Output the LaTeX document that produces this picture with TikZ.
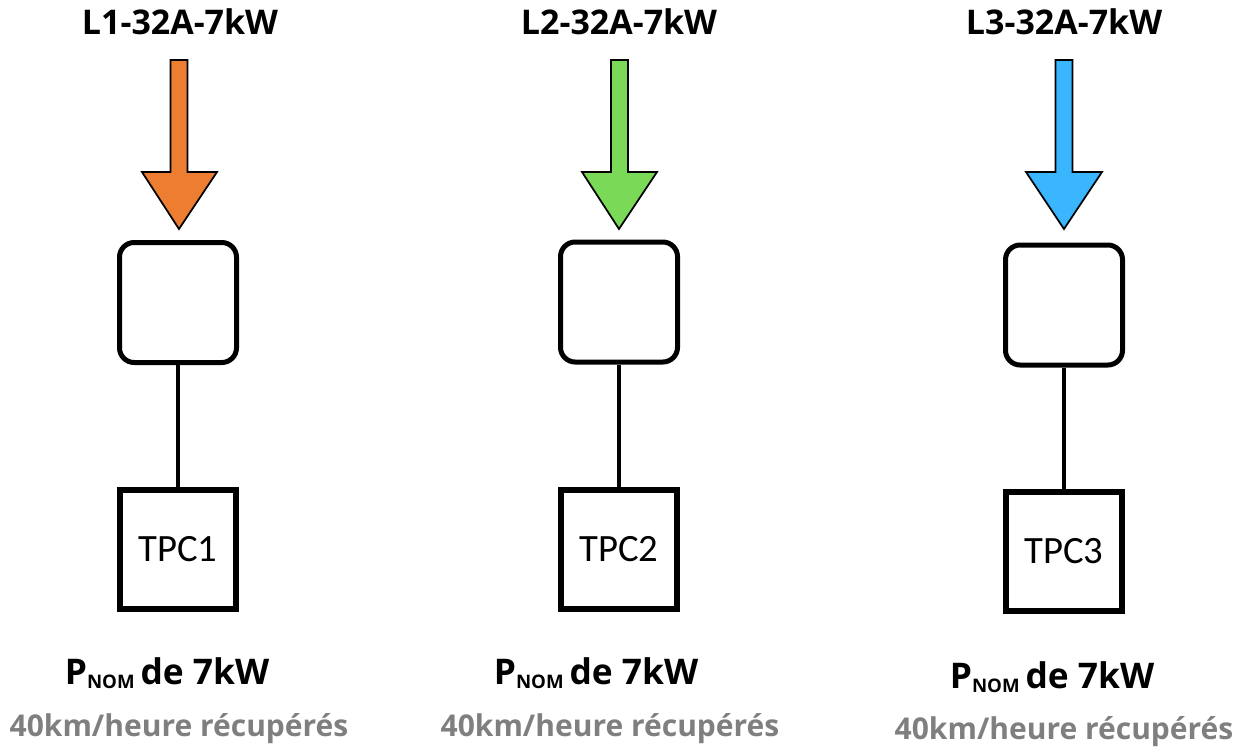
\documentclass[tikz,border=0pt]{standalone}
\usepackage{fontspec}
\setmainfont{Open Sans}
\newfontfamily\calfont{Carlito}
\definecolor{arrOrange}{HTML}{ED7D31}
\definecolor{arrGreen}{HTML}{7AD957}
\definecolor{arrBlue}{HTML}{3AB6FF}
\definecolor{txtGray}{HTML}{7F7F7F}
\newcommand{\pnom}{P{\raisebox{-0.12em}{\fontsize{14}{15}\selectfont NOM}}\,de 7kW}
\begin{document}
\begin{tikzpicture}[x=0.75pt,y=-0.75pt,
  title/.style={font=\bfseries\fontsize{25.5}{30}\selectfont, inner sep=0pt},
  ctrlbox/.style={draw=black, line width=3.75pt, rounded corners=11pt, fill=white,
    minimum width=87.75pt, minimum height=90pt, inner sep=0pt},
  tpcbox/.style={draw=black, line width=4.5pt, fill=white,
    minimum width=87pt, minimum height=89.25pt, inner sep=0pt,
    font=\calfont\fontsize{29}{34}\selectfont},
  link/.style={line width=3pt},
  pnomtxt/.style={font=\bfseries\fontsize{26.5}{31}\selectfont, inner sep=0pt},
  kmtxt/.style={font=\bfseries\fontsize{22.5}{27}\selectfont, text=txtGray, inner sep=0pt},
  blockarrow/.style={draw=black, line width=1.3pt, line join=miter}
]
\useasboundingbox (0,0) rectangle (1248,751);

% column 1
\node[title] (h1) at (180,22) {L1-32A-7kW};
\draw[blockarrow, fill=arrOrange] (170.5,60) -- (187.5,60) -- (187.5,172) -- (217,172) -- (179,229) -- (142,172) -- (170.5,172) -- cycle;
\node[ctrlbox] (b1) at (178,302.5) {};
\node[tpcbox] (t1) at (178,549.5) {TPC1};
\draw[link] (b1.south) -- (t1.north);
\node[pnomtxt] (p1) at (167,673) {\pnom};
\node[kmtxt] (k1) at (179,729) {40km/heure récupérés};

% column 2
\node[title] (h2) at (619,22) {L2-32A-7kW};
\draw[blockarrow, fill=arrGreen] (611,60) -- (628,60) -- (628,172) -- (657,172) -- (619,229) -- (582,172) -- (611,172) -- cycle;
\node[ctrlbox] (b2) at (619,302) {};
\node[tpcbox] (t2) at (619,549.5) {TPC2};
\draw[link] (b2.south) -- (t2.north);
\node[pnomtxt] (p2) at (596,673) {\pnom};
\node[kmtxt] (k2) at (610,729) {40km/heure récupérés};

% column 3
\node[title] (h3) at (1064,22) {L3-32A-7kW};
\draw[blockarrow, fill=arrBlue] (1055.5,60) -- (1072.5,60) -- (1072.5,172) -- (1102,172) -- (1064,229) -- (1026,172) -- (1055.5,172) -- cycle;
\node[ctrlbox] (b3) at (1064,305) {};
\node[tpcbox] (t3) at (1064,551.5) {TPC3};
\draw[link] (b3.south) -- (t3.north);
\node[pnomtxt] (p3) at (1052,677) {\pnom};
\node[kmtxt] (k3) at (1064,732) {40km/heure récupérés};
\end{tikzpicture}
\end{document}
